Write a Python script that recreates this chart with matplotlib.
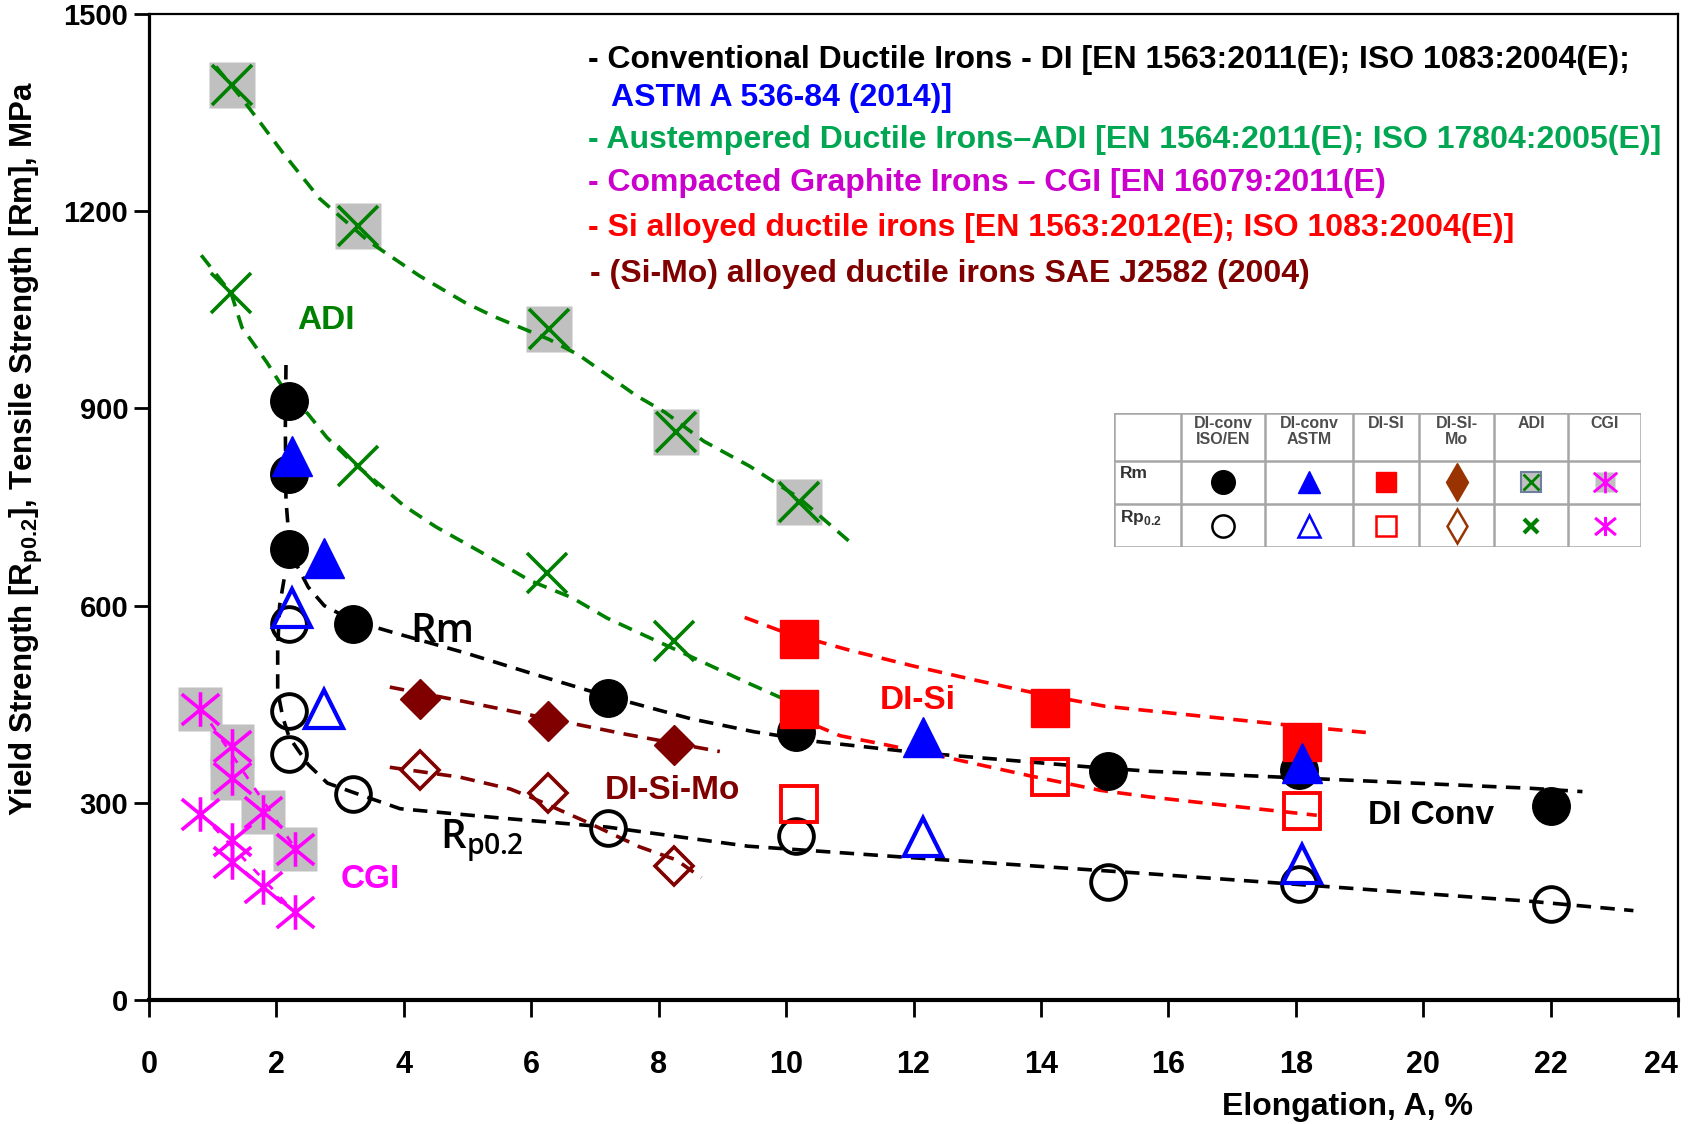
import matplotlib
matplotlib.use("Agg")
import matplotlib.pyplot as plt
from matplotlib.path import Path

# ---- values: elongation A (%) vs strength (MPa) ----
# conventional ductile irons, EN 1563 / ISO 1083
di_x = [2.2, 2.2, 2.2, 3.2, 7.2, 10.15, 15.05, 18.05, 22.0]
di_rm = [911, 800, 686, 572, 460, 407, 349, 350, 295]
di_rp = [572, 440, 375, 314, 261, 250, 180, 176, 146]

# conventional ductile irons, ASTM A536
astm_x = [2.25, 2.75, 12.15, 18.1]
astm_rm = [827, 672, 400, 360]
astm_rp = [597, 442, 248, 207]

# Si alloyed ductile irons
si_rm_x = [10.2, 10.2, 14.15, 18.1]
si_rm = [549, 443, 444, 392]
si_rp_x = [10.2, 14.15, 18.1]
si_rp = [298, 339, 287]

# Si-Mo alloyed ductile irons
simo_x = [4.25, 6.27, 8.24]
simo_rm = [458, 424, 388]
simo_rp = [350, 315, 204]

# austempered ductile irons
adi_rm_x = [1.3, 3.28, 6.28, 8.27, 10.2]
adi_rm = [1392, 1178, 1021, 864, 758]
adi_rp_x = [1.29, 3.28, 6.25, 8.24]
adi_rp = [1075, 812, 650, 546]

# compacted graphite irons
cgi_x = [0.8, 1.3, 1.3, 1.79, 2.29]
cgi_rm = [443, 387, 337, 286, 230]
cgi_rp = [283, 243, 210, 172, 134]

# dashed trend curves as drawn on the chart
di_rm_fit_x = [2.15, 2.14, 2.15, 2.2, 2.3, 2.5, 2.75, 3.2, 3.8, 5.0, 6.0, 7.2, 8.5, 9.5, 10.5, 12.0, 14.7, 15.7, 18.0, 21.7, 22.5]
di_rm_fit_y = [966, 870, 760, 700, 665, 628, 600, 577, 560, 527, 497, 462, 428, 408, 393, 377, 355, 348, 338, 322, 317]
di_rp_fit_x = [2.12, 2.05, 2.02, 2.02, 2.1, 2.2, 2.32, 2.5, 2.8, 3.2, 3.94, 5.5, 7.2, 9.4, 11.9, 15.7, 18.0, 21.7, 23.3]
di_rp_fit_y = [640, 600, 534, 470, 430, 400, 383, 358, 330, 316, 291, 277, 263, 234, 217, 192, 176, 150, 136]
adi_rm_fit_x = [1.05, 1.43, 1.76, 2.1, 2.68, 3.45, 4.24, 4.96, 5.41, 6.28, 6.75, 7.64, 8.1, 8.71, 9.43, 10.2, 11.0]
adi_rm_fit_y = [1420, 1375, 1333, 1289, 1219, 1154, 1102, 1061, 1040, 1005, 981, 920, 894, 850, 812, 764, 697]
adi_rp_fit_x = [0.82, 1.29, 1.46, 1.85, 2.1, 2.5, 2.79, 3.17, 3.67, 4.0, 4.5, 5.29, 5.98, 6.64, 7.19, 7.86, 8.38, 9.43, 10.1]
adi_rp_fit_y = [1133, 1075, 1023, 970, 932, 891, 856, 820, 780, 752, 720, 677, 638, 612, 581, 551, 528, 481, 452]
si_rm_fit_x = [9.35, 9.9, 11, 12, 13, 14, 15, 16, 17, 18, 19.1]
si_rm_fit_y = [582, 562, 532, 508, 486, 465, 447, 437, 427, 417, 407]
si_rp_fit_x = [10.1, 10.53, 10.85, 11.58, 12.47, 13.83, 14.93, 15.7, 17.0, 18.33]
si_rp_fit_y = [428, 415, 402, 388, 370, 341, 319, 309, 295, 281]
simo_rm_fit_x = [3.78, 4.9, 6.27, 7.5, 8.96]
simo_rm_fit_y = [476, 455, 428, 404, 378]
simo_rp_fit_x = [3.78, 4.88, 5.67, 5.98, 6.82, 7.7, 8.28, 8.67]
simo_rp_fit_y = [354, 339, 321, 309, 273, 233, 213, 186]
cgi_rm_fit_x = [0.8, 2.3]
cgi_rm_fit_y = [445, 230]
cgi_rp_fit_x = [0.8, 2.3]
cgi_rp_fit_y = [285, 132]

legend_lines = [
    ("- Conventional Ductile Irons - DI [EN 1563:2011(E); ISO 1083:2004(E);", "black"),
    ("ASTM A 536-84 (2014)]", "#0000ff"),
    ("- Austempered Ductile Irons\u2013ADI [EN 1564:2011(E); ISO 17804:2005(E)]", "#00a651"),
    ("- Compacted Graphite Irons \u2013 CGI [EN 16079:2011(E)", "#cc00cc"),
    ("- Si alloyed ductile irons [EN 1563:2012(E); ISO 1083:2004(E)]", "#ff0000"),
    ("- (Si-Mo) alloyed ductile irons SAE J2582 (2004)", "#800000"),
]
table_cols = ["DI-conv\nISO/EN", "DI-conv\nASTM", "DI-SI", "DI-SI-\nMo", "ADI", "CGI"]

FONT = "Liberation Sans"
GREEN = "#008000"
MAG = "#ff00ff"
BROWN = "#800000"
GRAY = "#c0c0c0"

# six-armed asterisk used for the CGI points
ast = Path([(0, -0.92), (0, 0.92), (-1, -0.82), (1, 0.82), (-1, 0.82), (1, -0.82)],
           [Path.MOVETO, Path.LINETO, Path.MOVETO, Path.LINETO, Path.MOVETO, Path.LINETO])

W, H = 1691, 1124
fig = plt.figure(figsize=(W / 100, H / 100), dpi=100)
ax = fig.add_axes([149 / W, 1 - 1000 / H, (1678 - 149) / W, (1000 - 14) / H])
ax.set_xlim(0, 24)
ax.set_ylim(0, 1500)

dash = dict(linestyle=(0, (4, 2.6)), linewidth=2.6, zorder=2)

# grey backing squares for the Rm points of ADI and CGI
ax.plot(adi_rm_x, adi_rm, "s", ms=33, color=GRAY, mec="none", zorder=1)
ax.plot(cgi_x, cgi_rm, "s", ms=31, color=GRAY, mec="none", zorder=1)

# trend curves
ax.plot(di_rm_fit_x, di_rm_fit_y, color="black", **dash)
ax.plot(di_rp_fit_x, di_rp_fit_y, color="black", **dash)
ax.plot(adi_rm_fit_x, adi_rm_fit_y, color=GREEN, **dash)
ax.plot(adi_rp_fit_x, adi_rp_fit_y, color=GREEN, **dash)
ax.plot(si_rm_fit_x, si_rm_fit_y, color="red", **dash)
ax.plot(si_rp_fit_x, si_rp_fit_y, color="red", **dash)
ax.plot(simo_rm_fit_x, simo_rm_fit_y, color=BROWN, **dash)
ax.plot(simo_rp_fit_x, simo_rp_fit_y, color=BROWN, **dash)
ax.plot(cgi_rm_fit_x, cgi_rm_fit_y, color=MAG, linestyle=(0, (3, 4)), linewidth=2, zorder=2)
ax.plot(cgi_rp_fit_x, cgi_rp_fit_y, color=MAG, linestyle=(0, (3, 4)), linewidth=2, zorder=2)

# data points
ax.plot(di_x, di_rm, "o", ms=27, color="black", zorder=3)
ax.plot(di_x, di_rp, "o", ms=25, mfc="none", mec="black", mew=2.8, zorder=3)
ax.plot(astm_x, astm_rm, "^", ms=29, color="#0000ff", zorder=4)
ax.plot(astm_x, astm_rp, "^", ms=27, mfc="none", mec="#0000ff", mew=3, zorder=4)
ax.plot(si_rm_x, si_rm, "s", ms=27, color="red", zorder=3)
ax.plot(si_rp_x, si_rp, "s", ms=26, mfc="none", mec="red", mew=2.8, zorder=3)
ax.plot(simo_x, simo_rm, "D", ms=20, color=BROWN, zorder=3)
ax.plot(simo_x, simo_rp, "D", ms=19, mfc="none", mec=BROWN, mew=2.6, zorder=3)
ax.plot(adi_rm_x, adi_rm, "x", ms=29, color=GREEN, mew=2.6, zorder=3)
ax.plot(adi_rp_x, adi_rp, "x", ms=29, color=GREEN, mew=2.6, zorder=3)
ax.plot(cgi_x, cgi_rm, marker=ast, ls="none", ms=27, color=MAG, mew=2.6, zorder=3)
ax.plot(cgi_x, cgi_rp, marker=ast, ls="none", ms=27, color=MAG, mew=2.6, zorder=3)

# group labels
lab = dict(family=FONT, fontweight="bold", fontsize=24, ha="center", va="baseline", zorder=5)
ax.text(2.78, 1021, "ADI", color=GREEN, **lab)
ax.text(12.07, 443, "DI-Si", color="red", **lab)
ax.text(8.22, 306, "DI-Si-Mo", color=BROWN, **lab)
ax.text(20.12, 268, "DI Conv", color="black", **lab)
ax.text(3.48, 171, "CGI", color=MAG, **lab)
ax.text(4.10, 544, "Rm", family="Open Sans", fontweight="semibold", fontsize=29, ha="left", va="baseline")
ax.text(4.57, 230, r"R$_{\mathregular{p0.2}}$", family="Open Sans", fontweight="semibold", fontsize=29,
        ha="left", va="baseline")

# axes styling
ax.set_xticks(range(0, 25, 2))
ax.set_yticks(range(0, 1501, 300))
ax.tick_params(axis="x", direction="out", length=12, width=2, pad=24, labelsize=22)
ax.tick_params(axis="y", direction="out", length=11, width=2, pad=4, labelsize=21)
for t in ax.get_xticklabels() + ax.get_yticklabels():
    t.set_fontfamily(FONT)
    t.set_fontweight("bold")
ax.get_xticklabels()[-1].set_horizontalalignment("right")
ax.spines["left"].set_linewidth(2.3)
ax.spines["bottom"].set_linewidth(3)
ax.spines["top"].set_linewidth(1.6)
ax.spines["right"].set_linewidth(1.6)

ax.set_xlabel("Elongation, A, %", family=FONT, fontweight="bold", fontsize=23)
ax.xaxis.set_label_coords(0.784, -0.093)
ax.set_ylabel(r"Yield Strength [R$_{\mathregular{p0.2}}$], Tensile Strength [Rm], MPa",
              family=FONT, fontweight="bold", fontsize=22.5)
ax.yaxis.set_label_coords(-0.068, 0.559)

# legend text block
baselines = [68, 106, 148, 191, 236, 282]
lefts = [588, 611, 588, 588, 588, 590]
for (txt, col), yb, xl in zip(legend_lines, baselines, lefts):
    fig.text(xl / W, 1 - yb / H, txt, color=col, family=FONT, fontweight="bold",
             fontsize=23, ha="left", va="baseline")

# small symbol table
col_edges = [1114, 1181, 1265, 1353, 1419, 1494, 1568, 1641]
row_edges = [413, 461, 504, 547]
tab = fig.add_axes([1114 / W, 1 - 547 / H, 527 / W, 134 / H])
tab.set_xlim(1114, 1641)
tab.set_ylim(547, 413)
tab.axis("off")
tab.add_patch(plt.Rectangle((1114, 413), 527, 134, facecolor="white", edgecolor="none", zorder=0))
for xe in col_edges:
    tab.plot([xe, xe], [413, 547], color="#a6a6a6", lw=1.8, zorder=1)
for ye in row_edges:
    tab.plot([1114, 1641], [ye, ye], color="#a6a6a6", lw=1.8, zorder=1)
cx = [(a + b) / 2 for a, b in zip(col_edges[1:-1], col_edges[2:])]
for c, name in zip(cx, table_cols):
    tab.text(c, 416, name, ha="center", va="top", fontsize=11.5, fontweight="bold",
             color="#4d4d4d", family=FONT, linespacing=1.05)
tab.text(1120, 466, "Rm", ha="left", va="top", fontsize=12.5, fontweight="bold", color="#333333", family=FONT)
tab.text(1120, 508, r"Rp$_{\mathregular{0.2}}$", ha="left", va="top", fontsize=12.5, fontweight="bold",
         color="#333333", family=FONT)
r1, r2 = 482, 526
tab.plot(cx[0], r1, "o", ms=17, color="black")
tab.plot(cx[0], r2, "o", ms=16, mfc="none", mec="black", mew=1.8)
tab.plot(cx[1], r1, "^", ms=16, color="#0000ff")
tab.plot(cx[1], r2, "^", ms=16, mfc="none", mec="#0000ff", mew=1.8)
tab.plot(cx[2], r1, "s", ms=15, color="red")
tab.plot(cx[2], r2, "s", ms=15, mfc="none", mec="red", mew=1.8)
tab.plot(cx[3], r1, "d", ms=19, color="#993300")
tab.plot(cx[3], r2, "d", ms=17, mfc="none", mec="#993300", mew=1.8)
tab.plot(cx[4], r1, "s", ms=15, mfc=GRAY, mec="#6f7fa0", mew=1.5)
tab.plot(cx[4], r1, "x", ms=12, color=GREEN, mew=2)
tab.plot(cx[4], r2, "x", ms=10, color=GREEN, mew=3)
tab.plot(cx[5], r1, "s", ms=15, color=GRAY, mec="none")
tab.plot(cx[5], r1, marker=ast, ls="none", ms=17, color=MAG, mew=2)
tab.plot(cx[5], r2, marker=ast, ls="none", ms=15, color=MAG, mew=2.2)

fig.savefig("out.png", dpi=100)
